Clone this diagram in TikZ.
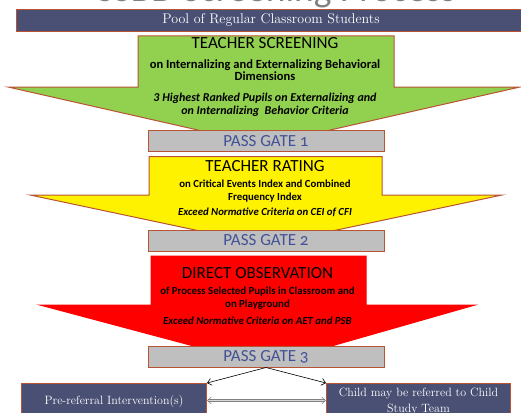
\documentclass[tikz,border=0pt]{standalone}
\usepackage{fontspec}
\usepackage{xcolor}
\usetikzlibrary{arrows.meta,positioning}

\newfontfamily\calibri{Carlito}
\newfontfamily\calibrionum[Numbers=OldStyle]{Carlito}

\definecolor{slate}{RGB}{74,80,116}
\definecolor{rim}{RGB}{184,84,52}
\definecolor{leaf}{RGB}{146,208,80}
\definecolor{gatefill}{RGB}{192,191,191}
\definecolor{gateblue}{RGB}{66,82,150}
\definecolor{titlegray}{RGB}{128,128,128}

\tikzset{
  stage/.style={draw=rim, line width=1pt, line join=miter},
  gate/.style={draw=rim, fill=gatefill, line width=1pt, minimum width=236pt,
    minimum height=21pt, inner sep=0pt, text=gateblue,
    font=\calibrionum\fontsize{17}{17}\selectfont},
  head/.style={font=\calibri\fontsize{17}{17}\selectfont},
  sub/.style={font=\calibri\bfseries\fontsize{10.8}{12.5}\selectfont, align=center},
  crit/.style={font=\calibri\bfseries\itshape\fontsize{10.8}{13}\selectfont, align=center},
  outcome/.style={draw=rim, fill=slate, line width=1pt, text=white,
    minimum height=35pt, inner sep=0pt, align=center,
    font=\fontsize{12}{16}\selectfont},
  link/.style={-{Straight Barb[length=4pt,width=7pt]}, line width=0.6pt}
}

\begin{document}
\begin{tikzpicture}[x=1pt,y=-1pt]
\useasboundingbox (0,0) rectangle (521,412);

% slide title, mostly cut off above the page
\node[anchor=base, text=titlegray, font=\calibri\fontsize{37.5}{38}\selectfont]
  (title) at (276,1.5) {SSBD Screening Process};

% top bar
\draw[draw=rim, fill=slate, line width=1pt] (16,9.5) rectangle (530,31.5);
\node[text=white, font=\fontsize{14}{15}\selectfont] (pool) at (271,20.5) {Pool of Regular Classroom Students};

% first stage
\draw[stage, fill=leaf] (138,36) -- (394,36) -- (394,87) -- (520,87) -- (264,145)
  -- (8,87) -- (138,87) -- cycle;
\node[head] (screenHead) at (265,43.5) {TEACHER SCREENING};
\node[sub, font=\calibri\bfseries\fontsize{12.5}{11.7}\selectfont] (screenSub) at (265,70)
  {on Internalizing and Externalizing Behavioral\\Dimensions};
\node[crit, font=\calibri\bfseries\itshape\fontsize{12}{13}\selectfont] (screenCrit) at (265,105)
  {3 Highest Ranked Pupils on Externalizing and\\on Internalizing\ \ Behavior Criteria};

\node[gate] (gate1) at (266,141) {PASS GATE 1};

% second stage
\draw[stage, fill=yellow] (149,156.5) -- (382,156.5) -- (382,195) -- (502,195) -- (266,245)
  -- (30,195) -- (149,195) -- cycle;
\node[head] (rateHead) at (265,166) {TEACHER RATING};
\node[sub] (rateSub) at (265,191) {on Critical Events Index and Combined\\Frequency Index};
\node[crit] (rateCrit) at (265,212) {Exceed Normative Criteria on CEI of CFI};

\node[gate] (gate2) at (266,240.5) {PASS GATE 2};

% third stage
\draw[stage, draw=red, fill=red] (151,256) -- (366,256) -- (366,305) -- (475,305) -- (265,365)
  -- (40,305) -- (151,305) -- cycle;
\node[head] (obsHead) at (257.5,273) {DIRECT OBSERVATION};
\node[sub] (obsSub) at (257.5,298) {of Process Selected Pupils in Classroom and\\on Playground};
\node[crit] (obsCrit) at (257.5,321) {Exceed Normative Criteria on AET and PSB};

\node[gate] (gate3) at (266,356.5) {PASS GATE 3};

% outcomes
\node[outcome, minimum width=185pt, anchor=north west] (prereferral) at (21,383)
  {Pre-referral Intervention(s)};
\node[outcome, minimum width=184pt, anchor=north west] (referral) at (326,383)
  {Child may be referred to Child\\Study Team};

\draw[link] (gate3.south) -- (prereferral.north east);
\draw[link] (gate3.south) -- (referral.north west);
\draw[{Straight Barb[length=4pt,width=7pt]}-{Straight Barb[length=4pt,width=7pt]},
  draw=gray, double=gray!30, double distance=1.2pt, line width=0.5pt]
  (prereferral.east |- 0,400.5) -- (referral.west |- 0,400.5);
\end{tikzpicture}
\end{document}
